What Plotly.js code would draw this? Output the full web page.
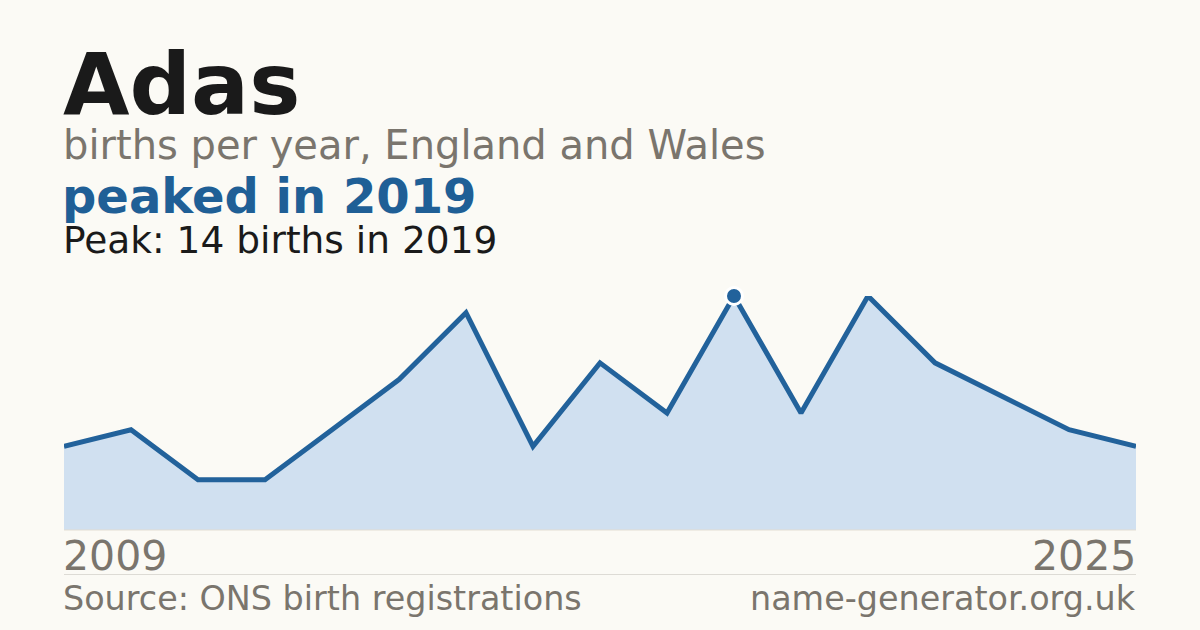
<!DOCTYPE html>
<html>
<head>
<meta charset="utf-8">
<script src="https://cdn.plot.ly/plotly-3.0.1.min.js"></script>
<style>html,body{margin:0;padding:0;background:#fbfaf5;}#chart{width:1200px;height:630px;}</style>
</head>
<body>
<div id="chart"></div>
<script>
const years = [2009,2010,2011,2012,2013,2014,2015,2016,2017,2018,2019,2020,2021,2022,2023,2024,2025];
const births = [5,6,3,3,6,9,13,5,10,7,14,7,14,10,8,6,5];
const titleText = "Adas";
const subtitleText = "births per year, England and Wales";
const headlineText = "peaked in 2019";
const sourceText = "Source: ONS birth registrations";
const siteText = "name-generator.org.uk";

let peakIdx = 0;
births.forEach((v,i)=>{ if (v > births[peakIdx]) peakIdx = i; });
const peakYear = years[peakIdx], peakVal = births[peakIdx];
const peakLabel = "Peak: " + peakVal + " births in " + peakYear;

const TOP = 296, BOT = 530, H = 630;
const py = p => (BOT - p) / (BOT - TOP);
const font = "DejaVu Sans, sans-serif";

const traces = [
  {x: years, y: births, type: 'scatter', mode: 'lines', fill: 'tozeroy',
   fillcolor: '#d0e0f0', line: {color: '#22629b', width: 5, shape: 'linear'},
   hoverinfo: 'skip', cliponaxis: false},
  {x: [peakYear], y: [peakVal], type: 'scatter', mode: 'markers',
   marker: {color: '#22629b', size: 17, line: {color: '#ffffff', width: 3}},
   cliponaxis: false, hoverinfo: 'skip'}
];

function ann(text, x, xa, yPix, size, color, bold) {
  return {text: bold ? '<b>' + text + '</b>' : text, xref: 'paper', yref: 'paper',
    x: x, xanchor: xa, y: py(yPix), yanchor: 'middle', showarrow: false,
    font: {family: font, size: size, color: color}};
}

const layout = {
  width: 1200, height: H, paper_bgcolor: '#fbfaf5', plot_bgcolor: 'rgba(0,0,0,0)',
  margin: {l: 64, r: 64, t: TOP, b: H - BOT, pad: 0},
  showlegend: false,
  xaxis: {range: [years[0], years[years.length-1]], showgrid: false, zeroline: false,
          showticklabels: false, showline: false, fixedrange: true},
  yaxis: {range: [0, peakVal], showgrid: false, zeroline: false,
          showticklabels: false, showline: false, fixedrange: true},
  annotations: [
    ann(titleText, -0.0028, 'left', 84, 86, '#1a1a1a', true),
    ann(subtitleText, -0.003, 'left', 145, 40, '#7a756d', false),
    ann(headlineText, -0.004, 'left', 196, 48, '#1f5f96', true),
    ann(peakLabel, -0.003, 'left', 240, 37.5, '#1a1a1a', false),
    ann(String(years[0]), -0.003, 'left', 555.5, 41, '#7a756d', false),
    ann(String(years[years.length-1]), 1.002, 'right', 555.5, 41, '#7a756d', false),
    ann(sourceText, -0.003, 'left', 598, 33.4, '#7a756d', false),
    ann(siteText, 1.002, 'right', 598, 33.4, '#7a756d', false)
  ],
  shapes: [
    {type: 'line', xref: 'paper', yref: 'paper', x0: 0, x1: 1, y0: 0, y1: 0,
     line: {color: '#e3ddd3', width: 1}},
    {type: 'line', xref: 'paper', yref: 'paper', x0: 0, x1: 1, y0: py(574.5), y1: py(574.5),
     line: {color: '#dddbd5', width: 1}}
  ]
};

Plotly.newPlot('chart', traces, layout, {displayModeBar: false, staticPlot: true});
</script>
</body>
</html>
